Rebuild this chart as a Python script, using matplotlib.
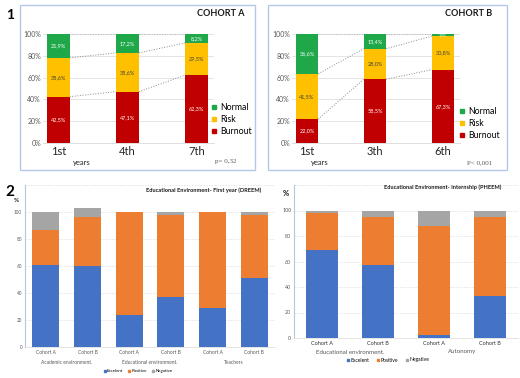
import matplotlib
matplotlib.use("Agg")
import matplotlib.pyplot as plt
from matplotlib.lines import Line2D
from matplotlib.patches import Rectangle
import numpy as np

# ---------------- data ----------------
cohortA_years = ["1st", "4th", "7th"]
cohortA_burnout = [42.5, 47.1, 62.3]
cohortA_risk = [35.6, 35.6, 29.5]
cohortA_normal = [21.9, 17.2, 8.2]

cohortB_years = ["1st", "3th", "6th"]
cohortB_burnout = [22.0, 58.5, 67.3]
cohortB_risk = [41.5, 28.0, 30.8]
cohortB_normal = [36.6, 13.4, 1.9]

dreem_cohorts = ["Cohort A", "Cohort B", "Cohort A", "Cohort B", "Cohort A", "Cohort B"]
dreem_groups = ["Academic environment.", "Educational environment.", "Teachers"]
dreem_excellent = [61, 60, 24, 37, 29, 51]
dreem_positive = [26, 36, 76, 61, 71, 47]
dreem_negative = [13, 7, 0, 2, 0, 2]

pheem_cohorts = ["Cohort A", "Cohort B", "Cohort A", "Cohort B"]
pheem_groups = ["Educational environment.", "Autonomy"]
pheem_excellent = [69, 57, 2, 33]
pheem_positive = [29, 38, 86, 62]
pheem_negative = [2, 5, 12, 5]

legend_burn = ["Normal", "Risk", "Burnout"]
legend_env = ["Excelent", "Positive", "Negative"]

# ---------------- style ----------------
plt.rcParams["font.family"] = ["Lato", "DejaVu Sans"]
W, H = 520, 378
fig = plt.figure(figsize=(W / 100, H / 100), dpi=100)
fig.patch.set_facecolor("white")

C_NORMAL, C_RISK, C_BURN = "#1ea84a", "#ffc000", "#c00000"
C_EXC, C_POS, C_NEG = "#4472c4", "#ed7d31", "#a5a5a5"
GRID = "#d9d9d9"
TXT = "#595959"


def px_axes(x0, y0, x1, y1):
    return fig.add_axes([x0 / W, 1 - y1 / H, (x1 - x0) / W, (y1 - y0) / H])


def ftext(x, y, s, **kw):
    fig.text(x / W, 1 - y / H, s, **kw)


def frame(x0, y0, x1, y1):
    fig.add_artist(Rectangle((x0 / W, 1 - y1 / H), (x1 - x0) / W, (y1 - y0) / H,
                             transform=fig.transFigure, fill=False,
                             edgecolor="#b4c7e7", linewidth=1.0))


def fmt(v):
    return ("%.1f%%" % v).replace(".", ",")


def burnout_panel(box, axbox, years, burn, risk, normal, title, title_x, pval,
                  years_xy, p_xy, legend_xy):
    frame(*box)
    ax = px_axes(*axbox)
    x = np.arange(len(years))
    wdt = 0.33
    burn = np.array(burn); risk = np.array(risk); normal = np.array(normal)
    b = burn / 100; r = risk / 100; n = normal / 100
    ax.bar(x, b, wdt, color=C_BURN, zorder=3)
    ax.bar(x, r, wdt, bottom=b, color=C_RISK, zorder=3)
    ax.bar(x, n, wdt, bottom=b + r, color=C_NORMAL, zorder=3)
    for i in range(len(x)):
        ax.text(x[i], b[i] / 2, fmt(burn[i]), ha="center", va="center",
                fontsize=4, color="white", zorder=4)
        ax.text(x[i], b[i] + r[i] / 2, fmt(risk[i]), ha="center", va="center",
                fontsize=4, color="#404040", zorder=4)
        ax.text(x[i], b[i] + r[i] + n[i] / 2, fmt(normal[i]), ha="center",
                va="center", fontsize=4 if n[i] > 0.05 else 2.5, color="white",
                zorder=4)
    # connector lines
    for levels in (b, b + r, b + r + n):
        for i in range(len(x) - 1):
            ax.plot([x[i] + wdt / 2, x[i + 1] - wdt / 2], [levels[i], levels[i + 1]],
                    color="#8c8c8c", linestyle=":", linewidth=0.7, zorder=2)
    ax.set_xlim(-0.22, 2.25)
    ax.set_ylim(0, 1)
    ax.set_yticks(np.arange(0, 1.01, 0.2))
    ax.set_yticklabels(["%d%%" % v for v in range(0, 101, 20)], fontsize=5,
                       color=TXT)
    ax.set_xticks(x)
    ax.set_xticklabels(years, fontsize=8, color="#262626")
    ax.tick_params(axis="both", length=0, pad=1.5)
    ax.tick_params(axis="x", pad=2)
    ax.yaxis.grid(True, color=GRID, linewidth=0.5, zorder=0)
    for s in ax.spines.values():
        s.set_visible(False)
    ax.spines["bottom"].set_visible(True)
    ax.spines["bottom"].set_color(GRID)
    ax.spines["bottom"].set_linewidth(0.6)
    ftext(title_x, 14, title, fontsize=6.5, fontweight="bold", ha="center",
          va="center", color="#1a1a1a")
    ftext(years_xy[0], years_xy[1], "years", fontsize=5.5, ha="center",
          va="center", color="#262626")
    ftext(p_xy[0], p_xy[1], pval, fontsize=5, ha="left", va="center",
          color=TXT, family="Liberation Serif")
    handles = [Line2D([], [], marker="s", linestyle="none", markersize=2.8,
                      color=c) for c in (C_NORMAL, C_RISK, C_BURN)]
    fig.legend(handles, legend_burn, loc="upper left",
               bbox_to_anchor=(legend_xy[0] / W, 1 - legend_xy[1] / H),
               fontsize=6.3, frameon=False, handlelength=0.7, handletextpad=0.4,
               labelspacing=0.35, borderpad=0, borderaxespad=0)


burnout_panel((20, 5, 255, 170), (43, 34, 214, 143), cohortA_years,
              cohortA_burnout, cohortA_risk, cohortA_normal, "COHORT A", 221,
              "p= 0,32", (82, 163), (215, 162), (211, 103))
burnout_panel((268, 5, 507, 170), (292, 34, 460, 143), cohortB_years,
              cohortB_burnout, cohortB_risk, cohortB_normal, "COHORT B", 469,
              "P< 0,001", (320, 163), (467, 163), (459, 107))

ftext(10, 15, "1", fontsize=10, fontweight="bold", ha="center", va="center")
ftext(10, 192, "2", fontsize=11, fontweight="bold", ha="center", va="center")


def env_panel(axbox, cohorts, groups, exc, pos, neg, wdt, title, title_xy,
              pct_xy, legend_xy, tick_fs, tick_col, group_fs, group_y,
              ytick_fs, leg_fs, leg_spacing):
    ax = px_axes(*axbox)
    x = np.arange(len(cohorts))
    exc = np.array(exc); pos = np.array(pos); neg = np.array(neg)
    ax.bar(x, exc, wdt, color=C_EXC, zorder=3)
    ax.bar(x, pos, wdt, bottom=exc, color=C_POS, zorder=3)
    ax.bar(x, neg, wdt, bottom=exc + pos, color=C_NEG, zorder=3)
    ax.set_xlim(-0.5, len(cohorts) - 0.5)
    ax.set_ylim(0, 120)
    ax.set_xticks(x)
    ax.set_xticklabels(cohorts, fontsize=tick_fs, color=tick_col)
    ax.tick_params(axis="both", length=0, pad=2)
    ax.set_yticks(np.arange(0, 121, 20))
    ax.set_yticklabels([str(v) for v in range(0, 101, 20)] + [""],
                       fontsize=ytick_fs, color=TXT)
    ax.yaxis.grid(True, color=GRID, linewidth=0.5, linestyle=(0, (2, 2)), zorder=0)
    for s in ax.spines.values():
        s.set_visible(False)
    ax.spines["left"].set_visible(True)
    ax.spines["left"].set_color("#b4c7e7")
    ax.spines["left"].set_linewidth(0.8)
    ax.spines["bottom"].set_visible(True)
    ax.spines["bottom"].set_color(GRID)
    ax.spines["bottom"].set_linewidth(0.5)
    trans = ax.get_xaxis_transform()
    y0, y1 = axbox[1], axbox[3]
    for i, g in enumerate(groups):
        ax.text(2 * i + 0.5, -(group_y - y1) / (y1 - y0), g, transform=trans,
                ha="center", va="center", fontsize=group_fs, color=TXT)
    ftext(title_xy[0], title_xy[1], title, fontsize=4.1, fontweight="bold",
          ha="center", va="center", color="#1a1a1a")
    ftext(pct_xy[0], pct_xy[1], "%", fontsize=pct_xy[2], fontweight="bold",
          ha="center", va="center", color="#1a1a1a")
    handles = [Line2D([], [], marker="s", linestyle="none", markersize=1.8,
                      color=c) for c in (C_EXC, C_POS, C_NEG)]
    fig.legend(handles, legend_env, loc="center",
               bbox_to_anchor=(legend_xy[0] / W, 1 - legend_xy[1] / H), ncol=3,
               fontsize=leg_fs, frameon=False, handlelength=0.5,
               handletextpad=0.2, columnspacing=leg_spacing, borderpad=0,
               borderaxespad=0)


env_panel((25, 185, 275, 347), dreem_cohorts, dreem_groups, dreem_excellent,
          dreem_positive, dreem_negative, 0.65,
          "Educational Environment- First year (DREEM)", (204, 190),
          (16, 200, 4.5), (138, 371), 3.5, TXT, 3.5, 363, 3.3, 3.2, 1.2)
env_panel((294, 185, 518, 338), pheem_cohorts, pheem_groups, pheem_excellent,
          pheem_positive, pheem_negative, 0.57,
          "Educational Environment- Internship (PHEEM)", (443, 187),
          (286, 193, 5.5), (388, 360), 4.0, "#333333", 4.4, 352, 3.8, 3.6, 1.5)

fig.savefig("out.png", dpi=100)
